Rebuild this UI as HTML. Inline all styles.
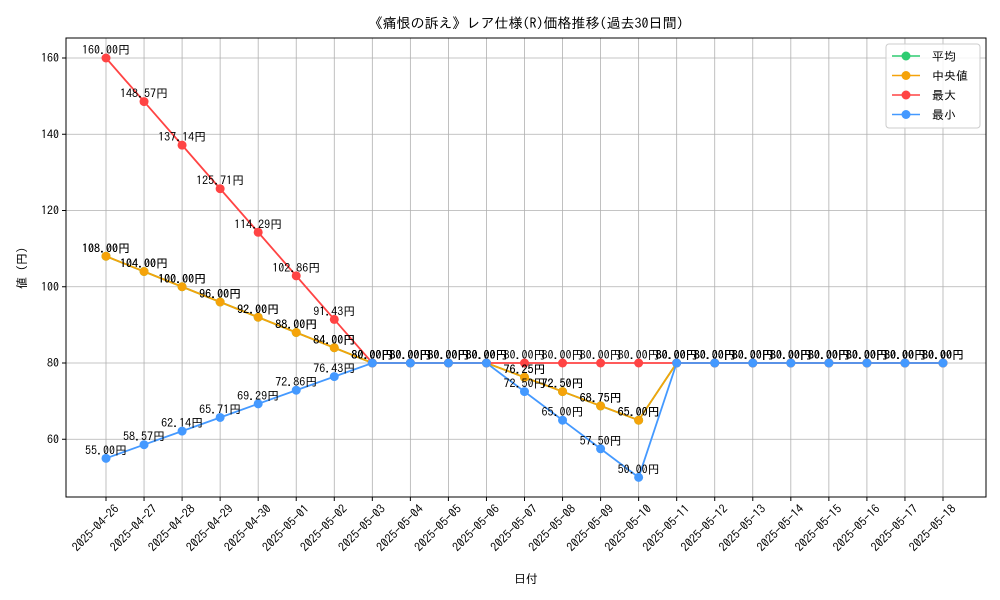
<!DOCTYPE html>
<html><head><meta charset="utf-8">
<style>
body{margin:0;background:#fff;}
svg{display:block;font-family:"IPAGothic","Liberation Sans","Noto Sans CJK JP",sans-serif;}
</style></head>
<body>
<svg id="chart" width="1000" height="600" xmlns="http://www.w3.org/2000/svg">
<rect width="1000" height="600" fill="#fff"/>
<text x="526" y="28" text-anchor="middle" font-size="14">《痛恨の訴え》レア仕様(R)価格推移(過去30日間)</text>
<g id="grid"></g>
<g id="series"></g>
<g id="labels"></g>
<rect x="66" y="38" width="920" height="459" fill="none" stroke="#000" stroke-width="1"/>
<g id="axes"></g>
<text x="526" y="583" text-anchor="middle" font-size="12">日付</text>
<text transform="translate(26,268) rotate(-90)" text-anchor="middle" font-size="12">値 (円)</text>
<g id="legend"></g>
</svg>
<script>
const categories=["2025-04-26","2025-04-27","2025-04-28","2025-04-29","2025-04-30","2025-05-01","2025-05-02","2025-05-03","2025-05-04","2025-05-05","2025-05-06","2025-05-07","2025-05-08","2025-05-09","2025-05-10","2025-05-11","2025-05-12","2025-05-13","2025-05-14","2025-05-15","2025-05-16","2025-05-17","2025-05-18"];
const avgValues=[108,104,100,96,92,88,84,80,80,80,80,76.25,72.5,68.75,65,80,80,80,80,80,80,80,80];
const medianValues=[108,104,100,96,92,88,84,80,80,80,80,76.25,72.5,68.75,65,80,80,80,80,80,80,80,80];
const maxValues=[160,148.57,137.14,125.71,114.29,102.86,91.43,80,80,80,80,80,80,80,80,80,80,80,80,80,80,80,80];
const minValues=[55,58.57,62.14,65.71,69.29,72.86,76.43,80,80,80,80,72.5,65,57.5,50,80,80,80,80,80,80,80,80];
const yTicks=[60,80,100,120,140,160];
const seriesNames=["平均","中央値","最大","最小"];

const NS="http://www.w3.org/2000/svg";
const X0=106,X1=943,L=66,R=986,T=38,B=497;
const x=i=>X0+(X1-X0)*i/(categories.length-1);
const y=v=>363-(v-80)*3.8125;
function mk(tag,attrs,parent){const e=document.createElementNS(NS,tag);for(const k in attrs)e.setAttribute(k,attrs[k]);parent.appendChild(e);return e;}
const grid=document.getElementById('grid'),axes=document.getElementById('axes'),ser=document.getElementById('series'),lab=document.getElementById('labels'),leg=document.getElementById('legend');

categories.forEach((c,i)=>{
  const g=mk('line',{x1:x(i),x2:x(i),y1:T,y2:B,stroke:'#b0b0b0','stroke-width':0.8},grid);
  
  
  mk('line',{x1:x(i),x2:x(i),y1:B,y2:B+4,stroke:'#000'},axes);
  const t=mk('text',{transform:`translate(${x(i)+8},${B+7}) rotate(-45)`,'text-anchor':'end','font-size':12,'dominant-baseline':'hanging'},axes);
  t.textContent=c;
  
  
});
yTicks.forEach(v=>{
  const g=mk('line',{x1:L,x2:R,y1:y(v),y2:y(v),stroke:'#b0b0b0','stroke-width':0.8},grid);
  
  
  mk('line',{x1:L-4,x2:L,y1:y(v),y2:y(v),stroke:'#000'},axes);
  const t=mk('text',{x:L-7,y:y(v)+4,'text-anchor':'end','font-size':12},axes);
  t.textContent=v;
  
  
});

const all=[avgValues,medianValues,maxValues,minValues];
const colors=["#2ecc71","#f5a30a","#ff4444","#4499ff"];
const keys=["avg","median","max","min"];
all.forEach((vals,s)=>{
  const p=mk('polyline',{points:vals.map((v,i)=>x(i)+','+y(v)).join(' '),fill:'none',stroke:colors[s],'stroke-width':1.8},ser);
  
  
  vals.forEach((v,i)=>{
    const c=mk('circle',{cx:x(i),cy:y(v),r:4.5,fill:colors[s]},ser);
    
    
    const t=mk('text',{x:x(i),y:y(v)-4,'text-anchor':'middle','font-size':12},lab);
    t.textContent=v.toFixed(2)+'円';
    
    
  });
});

const lb=mk('rect',{x:886,y:44,width:94,height:84,rx:3,fill:'#fff','fill-opacity':0.85,stroke:'#ccc'},leg);


seriesNames.forEach((n,s)=>{
  const yy=56+s*19.5;
  const g=mk('g',{},leg);
  
  
  mk('line',{x1:892,x2:920,y1:yy,y2:yy,stroke:colors[s],'stroke-width':1.6},g);
  mk('circle',{cx:906,cy:yy,r:4.5,fill:colors[s]},g);
  const t=mk('text',{x:932,y:yy+4.5,'font-size':12},g);
  t.textContent=s===1?' 中央値':n;
});
</script>
</body></html>
